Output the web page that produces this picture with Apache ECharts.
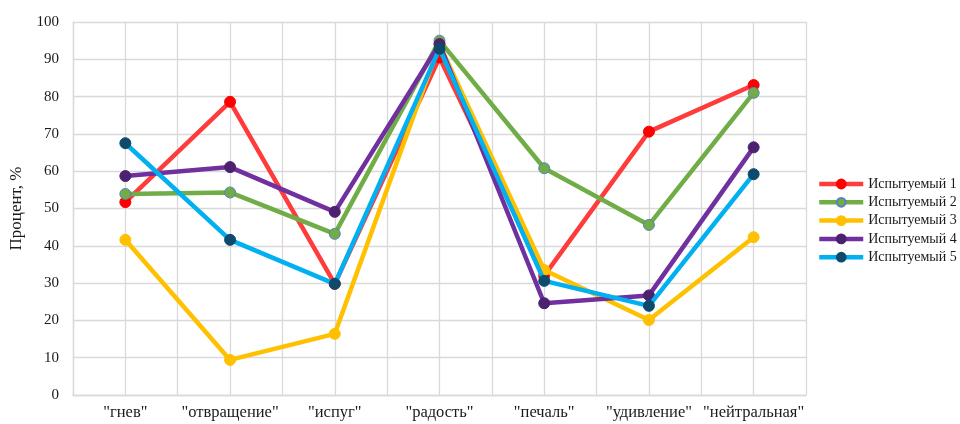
<!DOCTYPE html>
<html>
<head>
<meta charset="utf-8">
<script src="https://cdn.jsdelivr.net/npm/echarts@6/dist/echarts.min.js"></script>
<style>
  html, body { margin: 0; padding: 0; background: #fff; }
  #chart { width: 960px; height: 424px; }
</style>
</head>
<body>
<div id="chart"></div>
<script>
// Emotion categories along the horizontal axis
const categories = ['"гнев"', '"отвращение"', '"испуг"', '"радость"', '"печаль"', '"удивление"', '"нейтральная"'];

// Percent of correct recognition per subject
const subject1 = [51.7, 78.6, 29.8, 90.5, 32.0, 70.6, 83.1];
const subject2 = [53.9, 54.3, 43.2, 95.0, 60.8, 45.6, 81.0];
const subject3 = [41.6, 9.4, 16.4, 94.0, 33.5, 20.1, 42.3];
const subject4 = [58.7, 61.1, 49.1, 94.1, 24.6, 26.7, 66.4];
const subject5 = [67.5, 41.6, 29.8, 92.8, 30.6, 23.9, 59.2];

const seriesNames = ['Испытуемый 1', 'Испытуемый 2', 'Испытуемый 3', 'Испытуемый 4', 'Испытуемый 5'];
const seriesData = [subject1, subject2, subject3, subject4, subject5];

// line colour, marker fill, marker border
const palette = [
  ['#FF3B3B', '#FF0000', '#FF0000'],
  ['#70AD47', '#70AD47', '#5B7FC4'],
  ['#FFC000', '#FFC000', '#FFC000'],
  ['#7030A0', '#4B2170', '#4B2170'],
  ['#00B0F0', '#0D4A6B', '#0D4A6B']
];

const serif = '"Liberation Serif", "DejaVu Serif", serif';
const gridColor = '#D9D9D9';
const textColor = '#1a1a1a';

const chart = echarts.init(document.getElementById('chart'), null, { renderer: 'canvas' });

chart.setOption({
  animation: false,
  grid: { left: 71, right: 154, top: 22, bottom: 29, containLabel: false },
  legend: {
    orient: 'vertical',
    left: 812,
    top: 172,
    itemWidth: 44,
    itemHeight: 11,
    itemGap: 4.3,
    lineStyle: { width: 4.5 },
    textStyle: { fontFamily: serif, fontSize: 14, color: textColor },
    data: seriesNames
  },
  xAxis: [
    {
      type: 'category',
      data: categories,
      boundaryGap: true,
      axisLine: { lineStyle: { color: gridColor, width: 1.3 } },
      axisTick: { show: false },
      splitLine: { show: false },
      axisLabel: { fontFamily: serif, fontSize: 16.5, color: textColor, margin: 9, interval: 0 }
    },
    {
      // half-category vertical grid lines
      type: 'value',
      min: 0,
      max: 14,
      interval: 1,
      position: 'bottom',
      axisLine: { show: false },
      axisTick: { show: false },
      axisLabel: { show: false },
      splitLine: { show: true, lineStyle: { color: gridColor, width: 1.3 } }
    }
  ],
  yAxis: {
    type: 'value',
    min: 0,
    max: 100,
    interval: 10,
    name: 'Процент, %',
    nameLocation: 'middle',
    nameGap: 48,
    nameTextStyle: { fontFamily: serif, fontSize: 17, color: textColor },
    axisLine: { show: true, lineStyle: { color: gridColor, width: 1.3 } },
    axisTick: { show: false },
    axisLabel: { fontFamily: serif, fontSize: 15, color: textColor, margin: 14 },
    splitLine: { show: true, lineStyle: { color: gridColor, width: 1.3 } }
  },
  series: seriesData.map((d, i) => ({
    name: seriesNames[i],
    type: 'line',
    xAxisIndex: 0,
    data: d,
    symbol: 'circle',
    symbolSize: 11,
    z: 2 + i,
    lineStyle: { color: palette[i][0], width: 4.5 },
    itemStyle: { color: palette[i][1], borderColor: palette[i][2], borderWidth: 1 }
  }))
});
</script>
</body>
</html>
